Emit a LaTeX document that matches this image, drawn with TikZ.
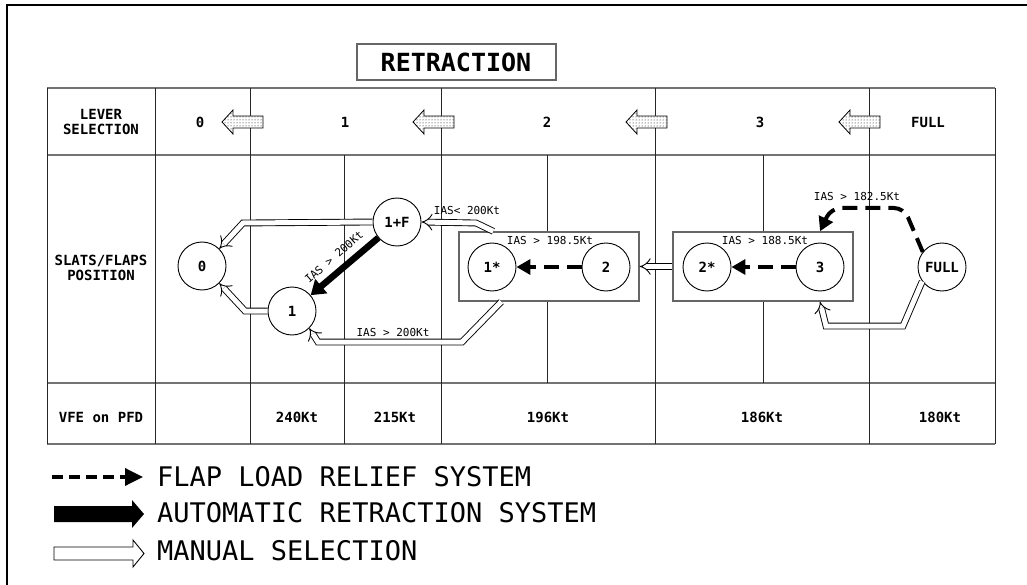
\documentclass[tikz,border=0pt]{standalone}
\usepackage{fontspec}
\setmonofont{DejaVu Sans Mono}
\usetikzlibrary{arrows.meta, patterns, positioning}

\tikzset{
  tablegrid/.style={line width=0.9pt, black!85},
  tablerule/.style={line width=1.6pt, black!55},
  flappos/.style={circle, draw, line width=0.9pt, minimum size=48pt, inner sep=0pt, fill=white,
    font=\ttfamily\bfseries\fontsize{14}{14}\selectfont},
  hdr/.style={font=\ttfamily\bfseries\fontsize{14}{15}\selectfont, align=center},
  ias/.style={font=\ttfamily\fontsize{11}{11}\selectfont, inner sep=1pt},
  manualsel/.style={double=white, double distance=5pt, line width=0.9pt, -{Implies}},
  reliefsys/.style={line width=4pt, dash pattern=on 15pt off 8pt, -{Triangle[length=14pt, width=15pt]}},
  autoretract/.style={line width=6.5pt, -{Triangle[length=14pt, width=18pt]}},
  grp/.style={draw=black!60, line width=1.4pt, fill=white},
  legendtext/.style={anchor=west, font=\ttfamily\fontsize{27}{27}\selectfont, inner sep=0pt},
}

% dotted lever arrow: tip x, centre y
\newcommand\leverarrow[2]{%
  \draw[line width=0.8pt, preaction={fill=white}, pattern=dots]
    (#1,#2) -- ++(11,-12) -- ++(0,6) -- ++(30,0) -- ++(0,12) -- ++(-30,0) -- ++(0,6) -- cycle;}

\begin{document}
\begin{tikzpicture}[x=1pt, y=-1pt]
  \useasboundingbox (0,0) rectangle (1027,585);

  % frame
  \draw[line width=2pt] (7,590) -- (7,5) -- (1032,5);

  % title
  \draw[line width=1.4pt, black!60] (357,44) rectangle (556,80);
  \node[font=\ttfamily\bfseries\fontsize{25}{25}\selectfont] (title) at (456,62) {RETRACTION};

  % table
  \foreach \y in {88,155,383,444}
    \draw[tablerule] (47,\y) -- (995,\y);
  \foreach \x in {47,155,250,441,655,869,995}
    \draw[tablegrid] (\x,88) -- (\x,444);
  \draw[tablegrid] (344,155) -- (344,444);
  \foreach \x in {547,763}
    \draw[tablegrid] (\x,155) -- (\x,383);

  % lever selection row
  \node[hdr] (lever) at (101,122) {LEVER\\SELECTION};
  \node[hdr] (l0) at (200,122) {0};
  \node[hdr] (l1) at (345,122) {1};
  \node[hdr] (l2) at (547,122) {2};
  \node[hdr] (l3) at (760,122) {3};
  \node[hdr] (lfull) at (928,122) {FULL};
  \foreach \x in {222,413,626,839}
    {\leverarrow{\x}{122}}

  % slats/flaps row
  \node[hdr] (slats) at (101,268) {SLATS/FLAPS\\POSITION};
  \node[grp, minimum width=180pt, minimum height=69pt] (b1) at (549,266.5) {};
  \node[grp, minimum width=180pt, minimum height=69pt] (b2) at (763,266.5) {};

  \node[flappos] (n0) at (202,266) {0};
  \node[flappos] (n1) at (292,311) {1};
  \node[flappos] (n1F) at (397,222) {1+F};
  \node[flappos] (n1s) at (492,267) {1*};
  \node[flappos] (n2) at (606,267) {2};
  \node[flappos] (n2s) at (707,267) {2*};
  \node[flappos] (n3) at (820,267) {3};
  \node[flappos] (nFull) at (942,267) {FULL};

  % manual selection
  \draw[manualsel] (n1F.west) -- (243,223) -- (n0.45);
  \draw[manualsel] (n1.west) -- (245,311) -- (n0.-45);
  \draw[manualsel] ([xshift=43pt]b1.south west) -- (462,342) -- (318,342) -- (n1.-45);
  \draw[manualsel] ([xshift=35pt]b1.north west) -- (476,223) -- (n1F.east);
  \draw[manualsel] (b2.west) -- (b1.east);
  \draw[manualsel] (nFull.-144) -- (903,326) -- (826,326) -- (b2.south -| n3);

  % flap load relief
  \draw[reliefsys] (n2) -- (n1s);
  \draw[reliefsys] (n3) -- (n2s);
  \draw[reliefsys, rounded corners=10pt] (nFull.142) -- (904,208) -- (831,208) -- (b2.north -| n3);

  % automatic retraction
  \draw[autoretract] (n1F) -- (n1);
  \node[ias, rotate=41] (c0) at (334,257) {IAS > 200Kt};

  % speed conditions
  \node[ias] (c1) at (550,240) {IAS > 198.5Kt};
  \node[ias] (c2) at (765,240) {IAS > 188.5Kt};
  \node[ias] (c3) at (467,210) {IAS< 200Kt};
  \node[ias] (c4) at (857,196) {IAS > 182.5Kt};
  \node[ias] (c5) at (393,332) {IAS > 200Kt};

  % vfe row
  \node[hdr] (vfe) at (101,417) {VFE on PFD};
  \node[hdr] (v1) at (297,417) {240Kt};
  \node[hdr] (v2) at (395,417) {215Kt};
  \node[hdr] (v3) at (548,417) {196Kt};
  \node[hdr] (v4) at (762,417) {186Kt};
  \node[hdr] (v5) at (940,417) {180Kt};

  % legend
  \coordinate (k1a) at (52,477);
  \coordinate (k1b) at (143,477);
  \draw[line width=3.5pt, dash pattern=on 11pt off 6pt, -{Triangle[length=18pt, width=17pt]}] (k1a) -- (k1b);
  \fill (54,506) -- (132,506) -- (132,500) -- (144,514) -- (132,528) -- (132,522) -- (54,522) -- cycle;
  \draw[line width=0.9pt] (54,547) -- (133,547) -- (133,540) -- (144,553.5) -- (133,567) -- (133,560) -- (54,560) -- cycle;
  \node[legendtext] (t1) at (157,477) {FLAP LOAD RELIEF SYSTEM};
  \node[legendtext] (t2) at (157,513) {AUTOMATIC RETRACTION SYSTEM};
  \node[legendtext] (t3) at (157,551) {MANUAL SELECTION};
\end{tikzpicture}
\end{document}
